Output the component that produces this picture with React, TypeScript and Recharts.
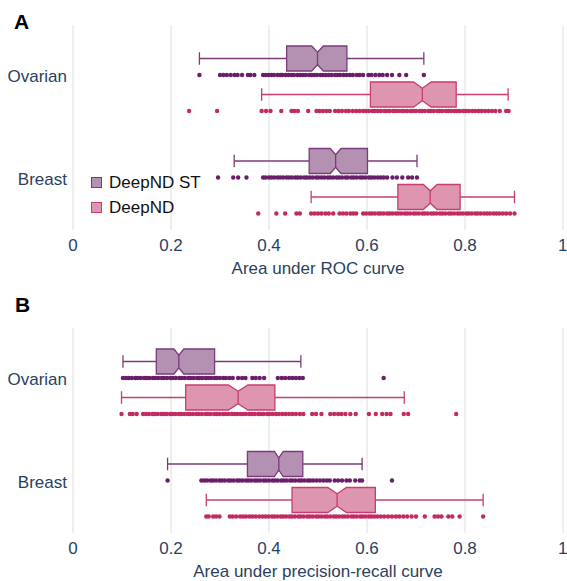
import { ComposedChart, Bar, XAxis, YAxis, CartesianGrid } from "recharts";

const categories = ["Ovarian", "Breast"];
const seriesNames = ["DeepND ST", "DeepND"];
const xTicks = [0, 0.2, 0.4, 0.6, 0.8, 1];

// [lower whisker, q1, median, q3, upper whisker, notch half-width]
const rocStStats = [
  [0.258, 0.436, 0.499, 0.559, 0.716, 0.012],
  [0.329, 0.482, 0.536, 0.601, 0.702, 0.011],
];
const rocDnStats = [
  [0.385, 0.607, 0.713, 0.782, 0.888, 0.018],
  [0.486, 0.663, 0.729, 0.79, 0.901, 0.014],
];
const prStStats = [
  [0.102, 0.17, 0.216, 0.289, 0.465, 0.01],
  [0.193, 0.356, 0.42, 0.469, 0.59, 0.009],
];
const prDnStats = [
  [0.099, 0.23, 0.337, 0.412, 0.676, 0.02],
  [0.272, 0.447, 0.539, 0.617, 0.837, 0.019],
];

// individual points
const rocStOvarian = [
  0.258, 0.3, 0.307, 0.314, 0.322, 0.33, 0.336, 0.345, 0.357, 0.362, 0.37, 0.388, 0.393, 0.399,
  0.405, 0.41, 0.417, 0.423, 0.427, 0.434, 0.44, 0.446, 0.451, 0.458, 0.464, 0.469, 0.475, 0.482,
  0.487, 0.492, 0.498, 0.505, 0.51, 0.516, 0.522, 0.528, 0.535, 0.54, 0.545, 0.552, 0.558, 0.565,
  0.571, 0.579, 0.585, 0.592, 0.603, 0.609, 0.617, 0.625, 0.632, 0.641, 0.651, 0.666, 0.68, 0.716,
];
const rocStBreast = [
  0.296, 0.327, 0.337, 0.354, 0.388, 0.393, 0.4, 0.405, 0.411, 0.418, 0.423, 0.429, 0.436, 0.441,
  0.447, 0.454, 0.459, 0.465, 0.472, 0.477, 0.483, 0.489, 0.496, 0.501, 0.507, 0.513, 0.52, 0.525,
  0.531, 0.538, 0.543, 0.549, 0.556, 0.561, 0.568, 0.573, 0.579, 0.586, 0.591, 0.597, 0.604, 0.609,
  0.615, 0.622, 0.628, 0.634, 0.641, 0.652, 0.661, 0.672, 0.684, 0.692, 0.702,
];
const rocDnOvarian = [
  0.237, 0.294, 0.385, 0.394, 0.403, 0.425, 0.446, 0.452, 0.459, 0.48, 0.497, 0.503, 0.51, 0.517,
  0.524, 0.535, 0.542, 0.549, 0.557, 0.563, 0.571, 0.578, 0.585, 0.592, 0.598, 0.604, 0.611, 0.616,
  0.622, 0.628, 0.635, 0.64, 0.646, 0.653, 0.658, 0.664, 0.671, 0.676, 0.682, 0.689, 0.694, 0.7,
  0.707, 0.712, 0.718, 0.725, 0.73, 0.736, 0.743, 0.748, 0.754, 0.761, 0.766, 0.772, 0.779, 0.784,
  0.79, 0.797, 0.802, 0.808, 0.815, 0.821, 0.828, 0.834, 0.841, 0.848, 0.855, 0.862, 0.871, 0.884,
  0.889,
];
const rocDnBreast = [
  0.378, 0.415, 0.433, 0.456, 0.463, 0.486, 0.493, 0.5, 0.507, 0.515, 0.522, 0.531, 0.544, 0.551,
  0.558, 0.566, 0.572, 0.578, 0.592, 0.598, 0.605, 0.61, 0.616, 0.623, 0.628, 0.634, 0.641, 0.646,
  0.652, 0.659, 0.664, 0.67, 0.677, 0.682, 0.688, 0.695, 0.7, 0.706, 0.713, 0.718, 0.724, 0.731,
  0.736, 0.742, 0.749, 0.754, 0.76, 0.767, 0.772, 0.778, 0.785, 0.79, 0.796, 0.803, 0.808, 0.814,
  0.821, 0.826, 0.832, 0.839, 0.845, 0.851, 0.858, 0.864, 0.87, 0.877, 0.884, 0.892, 0.901,
];
const prStOvarian = [
  0.102, 0.108, 0.114, 0.12, 0.127, 0.132, 0.138, 0.145, 0.15, 0.156, 0.163, 0.168, 0.174, 0.181,
  0.186, 0.192, 0.199, 0.204, 0.21, 0.217, 0.222, 0.228, 0.235, 0.24, 0.246, 0.253, 0.258, 0.264,
  0.271, 0.276, 0.282, 0.289, 0.294, 0.3, 0.307, 0.312, 0.319, 0.326, 0.337, 0.345, 0.352, 0.366,
  0.373, 0.381, 0.39, 0.418, 0.426, 0.433, 0.441, 0.448, 0.455, 0.462, 0.469, 0.634,
];
const prStBreast = [
  0.193, 0.262, 0.268, 0.274, 0.281, 0.286, 0.292, 0.299, 0.304, 0.31, 0.317, 0.322, 0.328, 0.335,
  0.34, 0.346, 0.353, 0.358, 0.364, 0.371, 0.376, 0.382, 0.389, 0.394, 0.4, 0.407, 0.412, 0.418,
  0.425, 0.43, 0.436, 0.443, 0.448, 0.454, 0.461, 0.466, 0.472, 0.479, 0.484, 0.49, 0.497, 0.504,
  0.511, 0.518, 0.524, 0.534, 0.541, 0.549, 0.558, 0.565, 0.576, 0.585, 0.59, 0.651,
];
const prDnOvarian = [
  0.099, 0.116, 0.122, 0.13, 0.143, 0.149, 0.155, 0.162, 0.167, 0.173, 0.18, 0.185, 0.191, 0.198,
  0.203, 0.209, 0.216, 0.221, 0.227, 0.234, 0.239, 0.245, 0.252, 0.257, 0.263, 0.27, 0.275, 0.281,
  0.288, 0.293, 0.299, 0.306, 0.311, 0.317, 0.324, 0.329, 0.335, 0.342, 0.347, 0.353, 0.36, 0.365,
  0.371, 0.378, 0.383, 0.389, 0.396, 0.401, 0.407, 0.414, 0.42, 0.427, 0.434, 0.441, 0.448, 0.455,
  0.463, 0.47, 0.488, 0.496, 0.507, 0.525, 0.533, 0.541, 0.548, 0.556, 0.566, 0.577, 0.604, 0.618,
  0.631, 0.64, 0.648, 0.675, 0.684, 0.782,
];
const prDnBreast = [
  0.272, 0.277, 0.286, 0.292, 0.299, 0.32, 0.326, 0.333, 0.341, 0.347, 0.353, 0.36, 0.366, 0.373,
  0.38, 0.387, 0.393, 0.399, 0.406, 0.411, 0.417, 0.424, 0.429, 0.435, 0.442, 0.447, 0.453, 0.46,
  0.465, 0.471, 0.478, 0.483, 0.489, 0.496, 0.501, 0.507, 0.514, 0.519, 0.525, 0.532, 0.537, 0.543,
  0.55, 0.555, 0.561, 0.568, 0.573, 0.579, 0.586, 0.591, 0.597, 0.604, 0.609, 0.615, 0.621, 0.628,
  0.635, 0.643, 0.651, 0.659, 0.666, 0.674, 0.682, 0.691, 0.7, 0.718, 0.738, 0.745, 0.752, 0.766,
  0.774, 0.789, 0.837,
];

const colors = {
  st: { fill: "#b491b3", stroke: "#7b3b7b", dot: "#6a1d68" },
  dn: { fill: "#de95b0", stroke: "#c83c70", dot: "#c22a62" },
};

const FONT = '"Liberation Sans", Arial, sans-serif';
const TEXT = "#2a3f5f";

function buildRows(stStats: number[][], dnStats: number[][], stPts: number[][], dnPts: number[][]) {
  return categories.map((cat, i) => ({
    cat,
    st: [stStats[i][0], stStats[i][4]],
    dn: [dnStats[i][0], dnStats[i][4]],
    stStats: stStats[i],
    dnStats: dnStats[i],
    stPts: stPts[i],
    dnPts: dnPts[i],
  }));
}

const rocRows = buildRows(rocStStats, rocDnStats, [rocStOvarian, rocStBreast], [rocDnOvarian, rocDnBreast]);
const prRows = buildRows(prStStats, prDnStats, [prStOvarian, prStBreast], [prDnOvarian, prDnBreast]);

// bar spans the whisker range; inner positions follow the same linear scale
function makeBox(key: "st" | "dn") {
  const c = colors[key];
  return (props: any) => {
    const { x, y, width, height, payload } = props;
    const [lo, q1, med, q3, hi, nw] = payload[key + "Stats"];
    const pts: number[] = payload[key + "Pts"];
    const px = (v: number) => x + ((v - lo) / (hi - lo)) * width;
    const cy = y + height / 2;
    const ins = height * 0.25;
    const b = y + height;
    const d =
      `M${px(q1)},${y} L${px(med - nw)},${y} L${px(med)},${y + ins} L${px(med + nw)},${y} ` +
      `L${px(q3)},${y} L${px(q3)},${b} L${px(med + nw)},${b} L${px(med)},${b - ins} ` +
      `L${px(med - nw)},${b} L${px(q1)},${b} Z`;
    return (
      <g>
        <line x1={px(lo)} x2={px(q1)} y1={cy} y2={cy} stroke={c.stroke} strokeWidth={1.3} />
        <line x1={px(q3)} x2={px(hi)} y1={cy} y2={cy} stroke={c.stroke} strokeWidth={1.3} />
        <line x1={px(lo)} x2={px(lo)} y1={cy - height / 4} y2={cy + height / 4} stroke={c.stroke} strokeWidth={1.3} />
        <line x1={px(hi)} x2={px(hi)} y1={cy - height / 4} y2={cy + height / 4} stroke={c.stroke} strokeWidth={1.3} />
        <path d={d} fill={c.fill} stroke={c.stroke} strokeWidth={1.3} />
        <line x1={px(med)} x2={px(med)} y1={y + ins} y2={b - ins} stroke={c.stroke} strokeWidth={1.3} />
        {pts.map((v, i) => (
          <circle key={i} cx={px(v)} cy={b + 4} r={2.2} fill={c.dot} />
        ))}
      </g>
    );
  };
}

const stBox = makeBox("st");
const dnBox = makeBox("dn");

function Panel({ rows, top, xLabel }: { rows: any[]; top: number; xLabel: string }) {
  return (
    <ComposedChart
      width={567}
      height={291}
      layout="vertical"
      data={rows}
      barSize={25}
      barGap={11}
      margin={{ top, right: 4, bottom: 291 - top - 205 - 48, left: 0 }}
    >
      <CartesianGrid horizontal={false} stroke="#dedede" />
      <XAxis
        type="number"
        domain={[0, 1]}
        ticks={xTicks}
        height={48}
        axisLine={false}
        tickLine={false}
        tickSize={0}
        tickMargin={9}
        tick={{ fill: TEXT, fontSize: 17, fontFamily: FONT }}
        label={{ value: xLabel, position: "insideBottom", offset: 4, fill: TEXT, fontSize: 17, fontFamily: FONT }}
      />
      <YAxis
        type="category"
        dataKey="cat"
        width={73}
        axisLine={false}
        tickLine={false}
        tickSize={0}
        tickMargin={6}
        tick={{ fill: TEXT, fontSize: 17, fontFamily: FONT }}
      />
      <Bar dataKey="st" name={seriesNames[0]} shape={stBox} isAnimationActive={false} />
      <Bar dataKey="dn" name={seriesNames[1]} shape={dnBox} isAnimationActive={false} />
    </ComposedChart>
  );
}

export default function App() {
  const sw = (c: { fill: string; stroke: string }) => ({
    display: "inline-block",
    width: 9,
    height: 9,
    background: c.fill,
    border: `1.3px solid ${c.stroke}`,
    marginRight: 7,
  });
  return (
    <div
      style={{
        position: "absolute",
        left: 0,
        top: 0,
        width: 567,
        height: 581,
        overflow: "hidden",
        background: "#fff",
        fontFamily: FONT,
      }}
    >
      <div style={{ position: "absolute", left: 0, top: 0 }}>
        <Panel rows={rocRows} top={25} xLabel="Area under ROC curve" />
      </div>
      <div style={{ position: "absolute", left: 0, top: 290 }}>
        <Panel rows={prRows} top={38} xLabel="Area under precision-recall curve" />
      </div>
      <div style={{ position: "absolute", left: 14, top: 10, fontSize: 21, fontWeight: "bold", color: "#000" }}>A</div>
      <div style={{ position: "absolute", left: 15, top: 293, fontSize: 21, fontWeight: "bold", color: "#000" }}>B</div>
      <div style={{ position: "absolute", left: 91, top: 170, fontSize: 17, color: "#111", lineHeight: "25px" }}>
        <div style={{ display: "flex", alignItems: "center" }}>
          <span style={sw(colors.st)} />
          {seriesNames[0]}
        </div>
        <div style={{ display: "flex", alignItems: "center" }}>
          <span style={sw(colors.dn)} />
          {seriesNames[1]}
        </div>
      </div>
    </div>
  );
}
